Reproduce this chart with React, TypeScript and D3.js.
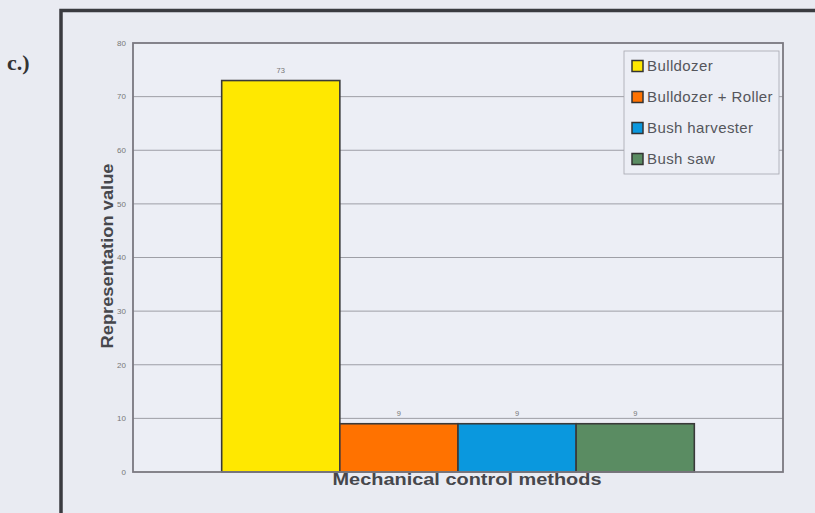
import React, { useEffect, useRef } from 'react';
import * as d3 from 'd3';

// Chart data
const categories = ['Mechanical control methods'];
const seriesNames = ['Bulldozer', 'Bulldozer + Roller', 'Bush harvester', 'Bush saw'];
const seriesValues = [73, 9, 9, 9];
const seriesColors = ['#ffe800', '#ff7200', '#0a98de', '#5a8c62'];
const yTicks = [0, 10, 20, 30, 40, 50, 60, 70, 80];

const App: React.FC = () => {
  const svgRef = useRef<SVGSVGElement>(null);

  useEffect(() => {
    if (!svgRef.current) return;
    const svg = d3.select(svgRef.current);
    svg.selectAll('*').remove();

    const width = 815;
    const height = 513;
    const plot = { left: 133, right: 783, top: 43, bottom: 472 };

    svg.attr('width', width).attr('height', height);

    // page background
    svg.append('rect').attr('width', width).attr('height', height).attr('fill', '#e9ebf2');

    // panel label
    svg.append('text')
      .attr('x', 7).attr('y', 70)
      .style('font-family', '"Liberation Serif", "DejaVu Serif", serif')
      .style('font-weight', 'bold')
      .style('font-size', '22px')
      .attr('fill', '#333')
      .text('c.)');

    // outer frame (cut off at right and bottom)
    svg.append('path')
      .attr('d', `M61,${height + 5} V10.5 H${width + 5}`)
      .attr('fill', 'none')
      .attr('stroke', '#3a3b40')
      .attr('stroke-width', 3.5);

    const y = d3.scaleLinear().domain([0, 80]).range([plot.bottom, plot.top]);
    const x0 = d3.scaleBand<string>().domain(categories).range([plot.left, plot.right]).padding(0.158);
    const x1 = d3.scaleBand<string>().domain(seriesNames).range([0, x0.bandwidth()]).padding(0);

    // plot background
    svg.append('rect')
      .attr('x', plot.left).attr('y', plot.top)
      .attr('width', plot.right - plot.left).attr('height', plot.bottom - plot.top)
      .attr('fill', '#eceef5');

    // gridlines
    svg.append('g')
      .selectAll('line')
      .data(yTicks.filter(t => t > 0 && t < 80))
      .enter()
      .append('line')
      .attr('x1', plot.left).attr('x2', plot.right)
      .attr('y1', d => y(d)).attr('y2', d => y(d))
      .attr('stroke', '#8a8a92')
      .attr('stroke-width', 0.8);

    // tick labels
    svg.append('g')
      .selectAll('text')
      .data(yTicks)
      .enter()
      .append('text')
      .attr('x', plot.left - 7)
      .attr('y', d => y(d))
      .attr('dy', '0.35em')
      .attr('text-anchor', 'end')
      .style('font-family', '"Liberation Sans", Arial, sans-serif')
      .style('font-size', '8px')
      .attr('fill', '#777')
      .text(d => d);

    // bars
    const group = svg.append('g').attr('transform', `translate(${x0(categories[0])},0)`);
    group.selectAll('rect')
      .data(seriesNames)
      .enter()
      .append('rect')
      .attr('x', d => x1(d) as number)
      .attr('y', (d, i) => y(seriesValues[i]))
      .attr('width', x1.bandwidth())
      .attr('height', (d, i) => y(0) - y(seriesValues[i]))
      .attr('fill', (d, i) => seriesColors[i])
      .attr('stroke', '#3a3a3a')
      .attr('stroke-width', 1.6);

    // value labels
    group.selectAll('text.val')
      .data(seriesNames)
      .enter()
      .append('text')
      .attr('class', 'val')
      .attr('x', d => (x1(d) as number) + x1.bandwidth() / 2)
      .attr('y', (d, i) => y(seriesValues[i]) - 8)
      .attr('text-anchor', 'middle')
      .style('font-family', '"Liberation Sans", Arial, sans-serif')
      .style('font-size', '7.5px')
      .attr('fill', '#777')
      .text((d, i) => seriesValues[i]);

    // plot border
    svg.append('rect')
      .attr('x', plot.left).attr('y', plot.top)
      .attr('width', plot.right - plot.left).attr('height', plot.bottom - plot.top)
      .attr('fill', 'none')
      .attr('stroke', '#7a7880')
      .attr('stroke-width', 1.8);

    // axis titles
    svg.append('text')
      .attr('transform', `translate(113,256) rotate(-90)`)
      .attr('text-anchor', 'middle')
      .attr('textLength', 185)
      .attr('lengthAdjust', 'spacingAndGlyphs')
      .style('font-family', '"Liberation Sans", Arial, sans-serif')
      .style('font-weight', 'bold')
      .style('font-size', '17px')
      .attr('fill', '#46474c')
      .text('Representation value');

    svg.append('text')
      .attr('x', 467).attr('y', 485)
      .attr('text-anchor', 'middle')
      .attr('textLength', 269)
      .attr('lengthAdjust', 'spacingAndGlyphs')
      .style('font-family', '"Liberation Sans", Arial, sans-serif')
      .style('font-weight', 'bold')
      .style('font-size', '17px')
      .attr('fill', '#46474c')
      .text(categories[0]);

    // legend
    const legend = svg.append('g');
    legend.append('rect')
      .attr('x', 624).attr('y', 51)
      .attr('width', 155).attr('height', 123)
      .attr('fill', '#eceef5')
      .attr('stroke', '#a6a6ae')
      .attr('stroke-width', 0.8);
    const items = legend.selectAll('g.item')
      .data(seriesNames)
      .enter()
      .append('g')
      .attr('class', 'item')
      .attr('transform', (d, i) => `translate(632,${66 + i * 31})`);
    items.append('rect')
      .attr('x', 0).attr('y', -5.5)
      .attr('width', 11).attr('height', 11)
      .attr('fill', (d, i) => seriesColors[i])
      .attr('stroke', '#333')
      .attr('stroke-width', 1.5);
    items.append('text')
      .attr('x', 15).attr('y', 0)
      .attr('dy', '0.35em')
      .style('font-family', '"Liberation Sans", Arial, sans-serif')
      .style('font-size', '15px')
      .style('letter-spacing', '0.4px')
      .attr('fill', '#55565c')
      .text(d => d);
  }, []);

  return (
    <div style={{ position: 'absolute', left: 0, top: 0 }}>
      <svg ref={svgRef} style={{ display: 'block' }} />
    </div>
  );
};

export default App;
